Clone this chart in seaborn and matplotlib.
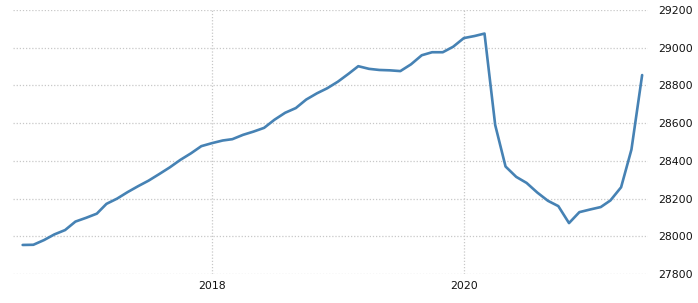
import matplotlib
matplotlib.use("Agg")
import matplotlib.pyplot as plt
import pandas as pd
import seaborn as sns

start_month = "2016-07-01"
values = [
    27954, 27955, 27980, 28010, 28033, 28078,
    28098, 28120, 28172, 28200, 28234, 28266, 28295, 28330, 28366, 28405, 28440, 28478,
    28494, 28508, 28515, 28538, 28555, 28575, 28618, 28655, 28680, 28725, 28758, 28785,
    28820, 28862, 28902, 28888, 28882, 28880, 28876, 28912, 28960, 28976, 28976, 29005,
    29051, 29062, 29075, 28590, 28370, 28315, 28283, 28232, 28188, 28160, 28070, 28128,
    28142, 28155, 28190, 28260, 28460, 28855,
]
y_ticks = [27800, 28000, 28200, 28400, 28600, 28800, 29000, 29200]
x_tick_labels = ["2018", "2020"]

dates = pd.date_range(start_month, periods=len(values), freq="MS")
df = pd.DataFrame({"date": dates, "value": values})

sns.set_theme(style="white")
plt.rcParams["font.family"] = ["DejaVu Sans"]

fig = plt.figure(figsize=(6.98, 3.03), dpi=100)
ax = fig.add_axes([13/698, 1-274/303, (648-13)/698, (274-10)/303])

sns.lineplot(data=df, x="date", y="value", ax=ax, color="#4682b4", linewidth=1.9)

ax.set_ylim(27800, 29200)
ax.set_xlim(pd.Timestamp("2016-06-03"), pd.Timestamp("2021-06-18"))
ax.set_yticks(y_ticks)
ax.set_yticklabels([str(v) for v in y_ticks])
ax.set_xticks([pd.Timestamp(f"{y}-01-01") for y in x_tick_labels])
ax.set_xticklabels(x_tick_labels)
ax.yaxis.tick_right()
ax.tick_params(axis="both", length=0, labelsize=7.8, colors="#111111")
ax.tick_params(axis="y", pad=7)
ax.tick_params(axis="x", pad=5)
ax.set_xlabel("")
ax.set_ylabel("")
for s in ax.spines.values():
    s.set_visible(False)
ax.grid(True, axis="both", color="#c8c8c8", linestyle=(0, (1, 1.5)), linewidth=0.9)
ax.set_axisbelow(True)

fig.savefig("out.png", dpi=100)
